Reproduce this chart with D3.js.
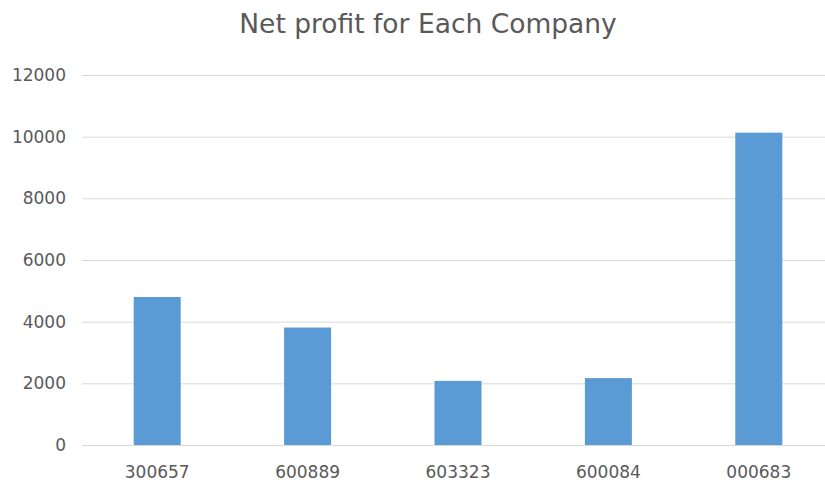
<!DOCTYPE html>
<html><head><meta charset="utf-8">
<script src="https://cdn.jsdelivr.net/npm/d3@7"></script>
<style>body{margin:0;background:#fff;} svg{display:block;}</style>
</head><body>
<svg id="c" width="825" height="484"></svg>
<script>
const categories = ["300657", "600889", "603323", "600084", "000683"];
const netProfit = [4800, 3810, 2080, 2170, 10130];
const yTicks = [0, 2000, 4000, 6000, 8000, 10000, 12000];
const title = "Net profit for Each Company";

const svg = d3.select("#c");
const font = "DejaVu Sans, sans-serif";
const x = d3.scaleBand().domain(categories).range([82, 834]).paddingInner(0.6875).paddingOuter(0.34375);
const y = d3.scaleLinear().domain([0, 12000]).range([445, 75]);

svg.append("rect").attr("width", 825).attr("height", 484).attr("fill", "#fff");

// gridlines
const yAxis = d3.axisLeft(y).tickValues(yTicks).tickSize(-(834 - 82)).tickPadding(16).tickFormat(d3.format("d"));
const gy = svg.append("g").attr("transform", "translate(82,0)").call(yAxis);
gy.select(".domain").remove();
gy.selectAll(".tick line").attr("stroke", "#d9d9d9").attr("stroke-width", 1);
gy.selectAll(".tick text").attr("fill", "#595959").style("font-family", font).style("font-size", "17px");

// bars
svg.append("g").selectAll("rect").data(categories).join("rect")
  .attr("x", d => x(d)).attr("width", x.bandwidth())
  .attr("y", (d, i) => y(netProfit[i])).attr("height", (d, i) => y(0) - y(netProfit[i]))
  .attr("fill", "#5b9bd5");

// x axis
const xAxis = d3.axisBottom(x).tickSize(0).tickPadding(21);
const gx = svg.append("g").attr("transform", "translate(0,445)").call(xAxis);
gx.select(".domain").remove();
gx.selectAll(".tick text").attr("fill", "#595959").style("font-family", font).style("font-size", "17px");

svg.append("text").attr("x", 428).attr("y", 33).attr("text-anchor", "middle")
  .attr("fill", "#595959").style("font-family", font).style("font-size", "26.5px").text(title);
</script>
</body></html>
